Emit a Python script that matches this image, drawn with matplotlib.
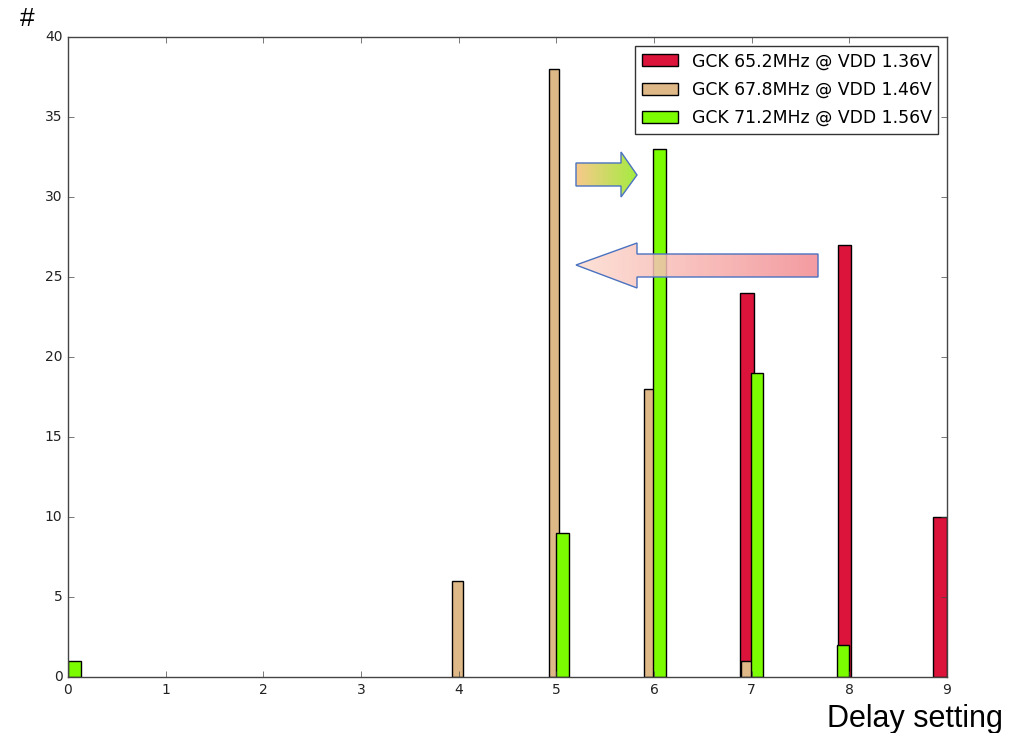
import matplotlib.pyplot as plt
import matplotlib.patches as mpatches
import numpy as np

# Данные: положение левого края столбца (задержка) и количество
red_label = "GCK 65.2MHz @ VDD 1.36V"
red_left = [6.88, 7.88, 8.86]
red_count = [24, 27, 10]

tan_label = "GCK 67.8MHz @ VDD 1.46V"
tan_left = [3.93, 4.92, 5.90, 6.89]
tan_count = [6, 38, 18, 1]

green_label = "GCK 71.2MHz @ VDD 1.56V"
green_left = [0.0, 5.0, 5.99, 6.99, 7.87]
green_count = [1, 9, 33, 19, 2]

xticks = list(range(0, 10))
yticks = list(range(0, 45, 5))

plt.style.use('classic')
plt.rcParams['font.family'] = 'DejaVu Sans'

W, H = 1019, 733
fig = plt.figure(figsize=(W / 100, H / 100), dpi=100, facecolor='white')
ax = fig.add_axes([68 / W, 1 - 677 / H, (947 - 68) / W, (677 - 37) / H])
ax.set_facecolor('white')

ax.bar(red_left, red_count, width=0.14, align='edge', color='crimson',
       edgecolor='black', linewidth=1.0, label=red_label)
ax.bar(tan_left, tan_count, width=0.11, align='edge', color='burlywood',
       edgecolor='black', linewidth=1.0, label=tan_label)
ax.bar(green_left, green_count, width=0.13, align='edge', color='lawngreen',
       edgecolor='black', linewidth=1.0, label=green_label)

ax.set_xlim(0, 9)
ax.set_ylim(0, 40)
ax.set_xticks(xticks)
ax.set_yticks(yticks)
ax.tick_params(labelsize=10, colors='#444444', labelcolor='#222222')
for s in ax.spines.values():
    s.set_color('#444444')

leg = ax.legend(loc='upper right', fontsize=12.4, borderaxespad=0.5,
                handlelength=2.1, labelspacing=0.6, fancybox=False)
leg.get_frame().set_edgecolor('#333333')

fig.text(20 / W, 1 - 26 / H, "#", fontsize=19, family='Liberation Sans')
fig.text(1003 / W, 1 - 727 / H, "Delay setting", fontsize=22,
         family='Liberation Sans', ha='right', va='baseline')

# Стрелки с градиентом поверх графика
over = fig.add_axes([0, 0, 1, 1], facecolor='none')
over.set_xlim(0, W)
over.set_ylim(H, 0)
over.axis('off')


def grad_arrow(pts, c0, c1, alpha):
    pts = np.array(pts, dtype=float)
    x0, x1 = pts[:, 0].min(), pts[:, 0].max()
    y0, y1 = pts[:, 1].min(), pts[:, 1].max()
    c0 = np.array(plt.matplotlib.colors.to_rgb(c0))
    c1 = np.array(plt.matplotlib.colors.to_rgb(c1))
    t = np.linspace(0, 1, 256)[None, :, None]
    img = c0 + (c1 - c0) * t
    img = np.repeat(img, 2, axis=0)
    poly = mpatches.Polygon(pts, closed=True, facecolor='none',
                            edgecolor='#4a72c0', linewidth=1.0)
    over.add_patch(poly)
    im = over.imshow(img, extent=[x0, x1, y1, y0], aspect='auto', alpha=alpha,
                     interpolation='bilinear')
    im.set_clip_path(poly)


# стрелка влево
grad_arrow([(576, 265), (637, 243), (637, 254), (818, 254), (818, 277),
            (637, 277), (637, 288)], '#fdddd0', '#f28a90', 0.85)
# стрелка вправо
grad_arrow([(576, 163), (621, 163), (621, 152), (637, 175), (621, 197),
            (621, 186), (576, 186)], '#f8c98c', '#a4ec40', 1.0)
over.set_xlim(0, W)
over.set_ylim(H, 0)

plt.savefig('out.png', dpi=100, facecolor='white')
